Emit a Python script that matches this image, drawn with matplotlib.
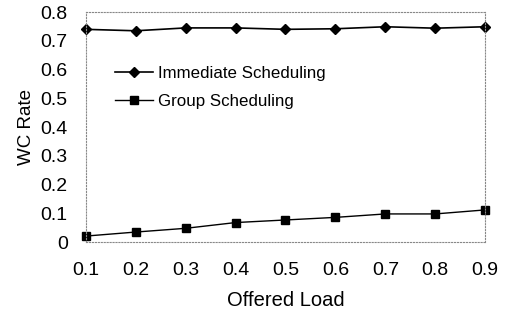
import matplotlib
matplotlib.use("Agg")
import matplotlib.pyplot as plt

plt.rcParams['font.family'] = ['Liberation Sans', 'DejaVu Sans']

# Datos
carga = [0.1, 0.2, 0.3, 0.4, 0.5, 0.6, 0.7, 0.8, 0.9]
inmediata = [0.740, 0.735, 0.745, 0.745, 0.740, 0.742, 0.749, 0.744, 0.749]
grupo = [0.021, 0.035, 0.048, 0.068, 0.077, 0.086, 0.098, 0.098, 0.112]
y_ticks = [0, 0.1, 0.2, 0.3, 0.4, 0.5, 0.6, 0.7, 0.8]
y_labels = ['0', '0.1', '0.2', '0.3', '0.4', '0.5', '0.6', '0.7', '0.8']

fig = plt.figure(figsize=(5.08, 3.10), dpi=100)
ax = fig.add_axes([0.169, 0.219, 0.786, 0.742])

ax.plot(carga, inmediata, color='black', lw=1.2, marker='D', ms=5,
        label='Immediate Scheduling', clip_on=False)
ax.plot(carga, grupo, color='black', lw=1.0, marker='s', ms=6,
        label='Group Scheduling', clip_on=False)

ax.set_xlim(0.1, 0.9)
ax.set_ylim(0, 0.8)
ax.set_xticks(carga)
ax.set_xticklabels([f'{v:.1f}' for v in carga])
ax.set_yticks(y_ticks)
ax.set_yticklabels(y_labels)
ax.tick_params(axis='x', length=0, labelsize=14, pad=14)
ax.tick_params(axis='y', length=0, labelsize=14, pad=13)

for s in ax.spines.values():
    s.set_color('#888888')
    s.set_linewidth(0.8)
    s.set_linestyle(':')

ax.set_xlabel('Offered Load', fontsize=14.5, labelpad=9)
ax.set_ylabel('WC Rate', fontsize=13.5, labelpad=4)

# Leyenda sin marco, dentro del área del gráfico
ax.legend(loc='upper left', bbox_to_anchor=(0.055, 0.795), frameon=False,
          borderaxespad=0, fontsize=12.2, handlelength=2.25,
          handletextpad=0.3, labelspacing=0.75)

fig.savefig('out.png', dpi=100)
